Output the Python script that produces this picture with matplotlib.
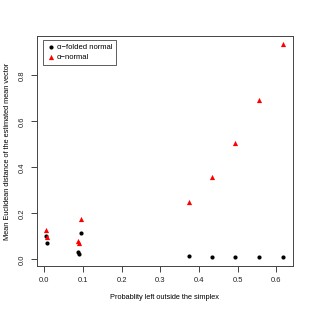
import matplotlib
matplotlib.use("Agg")
import matplotlib.pyplot as plt

prob_outside = [0.005, 0.007, 0.088, 0.090, 0.095, 0.375, 0.433, 0.494, 0.555, 0.618]
folded = [0.103, 0.072, 0.033, 0.022, 0.113, 0.013, 0.012, 0.012, 0.012, 0.012]
normal = [0.127, 0.097, 0.081, 0.070, 0.177, 0.251, 0.357, 0.504, 0.693, 0.935]
xticks = [0.0, 0.1, 0.2, 0.3, 0.4, 0.5, 0.6]
yticks = [0.0, 0.2, 0.4, 0.6, 0.8]

plt.rcParams['font.family'] = ['Liberation Sans', 'DejaVu Sans']
fig = plt.figure(figsize=(3.12, 3.11), dpi=100)
ax = fig.add_axes([37/312, 45/311, 256/312, 230/311])

ax.scatter(prob_outside, folded, s=9, marker='o', color='black', linewidths=0, label='α−folded normal', zorder=3)
ax.scatter(prob_outside, normal, s=14, marker='^', color='red', linewidths=0, label='α−normal', zorder=3)

ax.set_xlim(-0.0189, 0.643)
ax.set_ylim(-0.029, 0.971)
ax.set_xticks(xticks)
ax.set_xticklabels([f"{v:.1f}" for v in xticks])
ax.set_yticks(yticks)
ax.set_yticklabels([f"{v:.1f}" for v in yticks], rotation=90, va='center')
ax.tick_params(direction='out', length=4, width=0.6, labelsize=5.5, pad=4, colors='#222222')
for sp in ax.spines.values():
    sp.set_linewidth(0.7)
    sp.set_color('#444444')

ax.set_xlabel('Probablity left outside the simplex', fontsize=5.3, labelpad=7)
ax.set_ylabel('Mean Euclidean distance of the estimated mean vector', fontsize=5.3, labelpad=6)

leg = ax.legend(loc='upper left', bbox_to_anchor=(6/256, 1 - 4/230), fontsize=5.5, frameon=True,
                fancybox=False, edgecolor='#333333', handletextpad=0.3, handlelength=1.0,
                borderpad=0.5, labelspacing=0.3, borderaxespad=0)
leg.get_frame().set_linewidth(0.7)

fig.savefig('out.png', dpi=100)
